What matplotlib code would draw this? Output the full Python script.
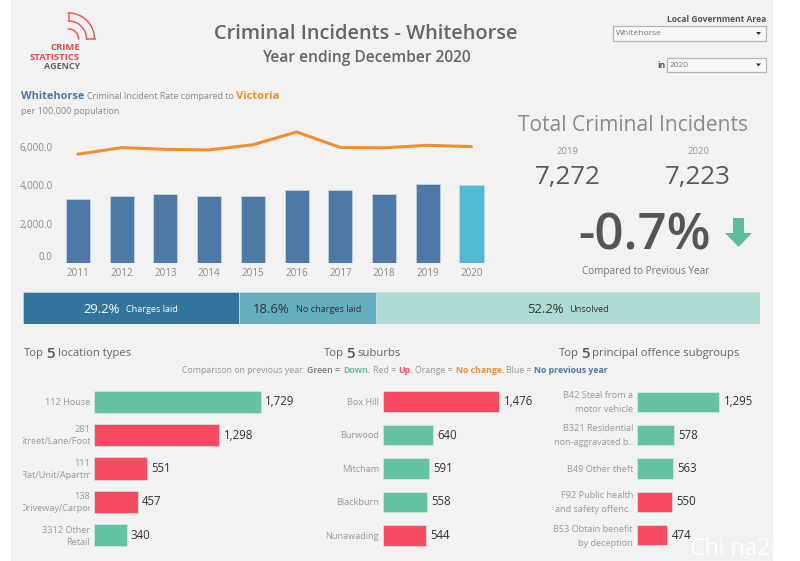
import numpy as np
from matplotlib import pyplot as plt
from matplotlib.patches import Rectangle, Polygon
from matplotlib.transforms import Bbox

plt.rcParams['font.family'] = ['Open Sans', 'DejaVu Sans']

years = [2011, 2012, 2013, 2014, 2015, 2016, 2017, 2018, 2019, 2020]
rate_lga = [3300, 3450, 3530, 3450, 3450, 3730, 3730, 3530, 4060, 4000]
rate_vic = [5610, 5950, 5860, 5830, 6100, 6760, 5960, 5940, 6070, 6000]
rate_ticks = [0, 2000, 4000, 6000]

status_names = ['Charges laid', 'No charges laid', 'Unsolved']
status_pct = [29.2, 18.6, 52.2]

loc_line1 = ['', '281', '111', '138', '3312 Other']
loc_line2 = ['112 House', 'Street/Lane/Footpath', 'Flat/Unit/Apartment', 'Driveway/Carport', 'Retail']
loc_vals = [1729, 1298, 551, 457, 340]
loc_up = [False, True, True, True, False]

sub_names = ['Box Hill', 'Burwood', 'Mitcham', 'Blackburn', 'Nunawading']
sub_vals = [1476, 640, 591, 558, 544]
sub_up = [True, False, False, False, True]

off_names = ['B42 Steal from a\nmotor vehicle', 'B321 Residential\nnon-aggravated b..',
             'B49 Other theft', 'F92 Public health\nand safety offenc..',
             'B53 Obtain benefit\nby deception']
off_vals = [1295, 578, 563, 550, 474]
off_up = [False, False, False, True, True]

W, H = 800, 561
GREY = '#f2f2f2'
TXT = '#555555'
LBL = '#9a9a9a'
GREEN = '#66c2a5'
RED = '#f94a64'
BLUE = '#4e79a7'
ORANGE = '#f28e2b'

fig = plt.figure(figsize=(W/100, H/100), dpi=100, facecolor='white')


def px_axes(x0, y0, x1, y1, **kw):
    # axes from pixel box, y counted from top
    return fig.add_axes([x0/W, 1 - y1/H, (x1 - x0)/W, (y1 - y0)/H], **kw)


bg = px_axes(0, 0, W, H)
bg.set_xlim(0, W)
bg.set_ylim(H, 0)
bg.axis('off')
bg.add_patch(Rectangle((11, 0), 762, H, color=GREY, lw=0))

# text layer on top of every chart
fg = px_axes(0, 0, W, H, zorder=10)
fg.set_xlim(0, W)
fg.set_ylim(H, 0)
fg.axis('off')


def txt(x, y, s, size=8, color=TXT, ha='left', weight='normal', **kw):
    return fg.text(x, y + size*0.08, s, fontsize=size*0.72, color=color, ha=ha, va='center',
                   fontweight=weight, **kw)


def inline(x, y, parts, center=False, gap=3):
    # several coloured pieces on one line
    rend = fig.canvas.get_renderer()
    items = [txt(0, y, s, size=sz, color=c, weight=w) for s, sz, c, w in parts]
    widths = [t.get_window_extent(rend).width for t in items]
    if center:
        x = x - (sum(widths) + gap*(len(items) - 1))/2
    for t, wd in zip(items, widths):
        t.set_x(x)
        x += wd + gap


# logo
a = np.linspace(0, np.pi/2, 40)
for r in [26, 18, 10]:
    bg.plot(68.5 + r*np.cos(a), 39 - r*np.sin(a), color='#ee5a5a', lw=1.1)
bg.plot([68.5, 68.5], [13, 21], color='#ee5a5a', lw=1.1)
bg.plot([86.5, 94.5], [39, 39], color='#ee5a5a', lw=1.1)
txt(80, 47, 'CRIME', 9.5, '#e8474c', 'right', 'bold')
txt(80, 56.5, 'STATISTICS', 9.5, '#e8474c', 'right', 'bold')
txt(80, 66, 'AGENCY', 9, '#666666', 'right', 'bold')

# titles
txt(366, 32, 'Criminal Incidents - Whitehorse', 20, '#666666', 'center', 'semibold')
txt(366, 57, 'Year ending December 2020', 15.5, '#666666', 'center', 'semibold')

# filters
txt(766, 19, 'Local Government Area', 8.5, '#555555', 'right', 'bold')
for x0, x1, y0, y1, s in [(613, 766, 26, 40.5, 'Whitehorse'), (667, 766, 57.5, 72, '2020')]:
    bg.add_patch(Rectangle((x0, y0), x1 - x0, y1 - y0, fc='#f8f8f8', ec='#b5b5b5', lw=0.9))
    txt(x0 + 3, (y0 + y1)/2, s, 8.5, '#777777')
    bg.add_patch(Polygon([(x1 - 10, y0 + 6), (x1 - 5, y0 + 6), (x1 - 7.5, y0 + 9)], color='#333333', lw=0))
txt(666, 65, 'in', 8.5, '#555555', 'right', 'bold')

# rate chart heading
inline(21, 96, [('Whitehorse', 11, BLUE, 'bold'),
                ('Criminal Incident Rate compared to', 8.9, '#888888', 'normal'),
                ('Victoria', 11.2, ORANGE, 'bold')], gap=2.5)
txt(21, 111, 'per 100,000 population', 9, '#888888')

# rate chart
ax = px_axes(56, 120, 494, 262.5)
ax.patch.set_alpha(0)
colors = [BLUE]*9 + ['#52b9d3']
ax.bar(years, rate_lga, width=0.55, color=colors, edgecolor='#c3d3e4', linewidth=0.6)
ax.plot(years, rate_vic, color=ORANGE, lw=2.2, solid_capstyle='round')
ax.set_xlim(2010.497, 2020.515)
ax.set_ylim(0, 7380)
for s in ax.spines.values():
    s.set_visible(False)
ax.set_yticks(rate_ticks)
ax.set_yticklabels([f'{v:,.1f}' for v in rate_ticks], fontsize=7, color='#8c8c8c')
ax.get_yticklabels()[0].set_y(0)
ax.get_yticklabels()[0].set_va('bottom')
ax.set_xticks(years)
ax.set_xticklabels(years, fontsize=7.1, color='#8c8c8c')
ax.tick_params(length=0, pad=4)
ax.tick_params(axis='y', pad=2.5)

# totals
txt(633, 123.5, 'Total Criminal Incidents', 21, '#8a8a8a', 'center')
txt(567, 151, '2019', 9.5, '#999999', 'center')
txt(698, 151, '2020', 9.5, '#999999', 'center')
txt(568, 175, '7,272', 26, '#5a5a5a', 'center', 'medium')
txt(698, 175, '7,223', 26, '#5a5a5a', 'center', 'medium')
txt(645, 232, '-0.7%', 51, '#555555', 'center', 'semibold')
bg.add_patch(Polygon([(733, 218), (744, 218), (744, 233), (752, 233), (738.5, 247), (725, 233), (733, 233)],
                     color='#5dbb9f', lw=0))
txt(646, 271, 'Compared to Previous Year', 10, '#777777', 'center')

# clearance bar
ax = px_axes(23.3, 291.7, 760.3, 324)
ax.axis('off')
ax.set_xlim(0, 100)
ax.set_ylim(-0.5, 0.5)
status_col = ['#32749b', '#63afc0', '#aedbd3']
status_txt = ['white', '#333333', '#333333']
left = 0
for name, pct, c, tc in zip(status_names, status_pct, status_col, status_txt):
    ax.barh(0, pct, left=left, height=1, color=c, edgecolor='#c9dfe3', linewidth=0.5)
    mid = ax.transData.transform((left + pct/2, 0))[0]
    inline(mid, 308.5, [(f'{pct}%', 13, tc, 'normal'), (name, 9.2, tc, 'normal')], center=True, gap=6)
    left += pct

# top 5 headings
inline(24, 353, [('Top', 11.3, '#666666', 'normal'), ('5', 15, '#555555', 'semibold'),
                 ('location types', 11.3, '#666666', 'normal')], gap=2.5)
inline(324, 353, [('Top', 11.3, '#666666', 'normal'), ('5', 15, '#555555', 'semibold'),
                  ('suburbs', 11.3, '#666666', 'normal')], gap=2.5)
inline(559, 353, [('Top', 11.3, '#666666', 'normal'), ('5', 15, '#555555', 'semibold'),
                  ('principal offence subgroups', 11.3, '#666666', 'normal')], gap=2.5)
inline(395, 370, [('Comparison on previous year:', 8.8, '#999999', 'normal'),
                  ('Green =', 8.8, '#777777', 'semibold'),
                  ('Down.', 8.8, GREEN, 'bold'),
                  ('Red =', 8.8, '#999999', 'normal'),
                  ('Up.', 8.8, RED, 'bold'),
                  ('Orange =', 8.8, '#999999', 'normal'),
                  ('No change.', 8.8, ORANGE, 'bold'),
                  ('Blue =', 8.8, '#999999', 'normal'),
                  ('No previous year', 8.8, BLUE, 'bold')], center=True, gap=2.5)


def top5(x0, x1, xmax, vals, up, bar_h):
    # centres of the five rows sit 33.5 px apart from 401.7 down
    ax = px_axes(x0, 385, x1, 552)
    ax.patch.set_alpha(0)
    ax.set_xlim(0, xmax)
    ax.set_ylim(4.5, -0.5)
    ax.axis('off')
    cols = [RED if u else GREEN for u in up]
    ax.barh(range(5), vals, height=bar_h, color=cols, edgecolor='#d5e8e2', linewidth=0.5)
    for i, v in enumerate(vals):
        ax.annotate(f'{v:,}', (v, i), xytext=(3, 0), textcoords='offset points',
                    ha='left', va='center', fontsize=8.3, color='#333333')
    return ax


top5(93.7, 93.7 + 200, 200/0.0968, loc_vals, loc_up, 0.66)
top5(382.7, 382.7 + 160, 160/0.079, sub_vals, sub_up, 0.62)
top5(637, 637 + 120, 120/0.0636, off_vals, off_up, 0.6)

# row labels
rows = [401.7, 435, 468.7, 502, 535.5]
for yc, a_, b in zip(rows, loc_line1, loc_line2):
    if a_ == '':
        txt(90, yc, b, 9.2, LBL, 'right')
    elif b == 'Retail':
        txt(90, yc - 6, a_, 9.2, LBL, 'right')
        txt(90, yc + 6, b, 9.2, LBL, 'right')
    else:
        txt(90, yc - 6, a_, 9.2, LBL, 'right')
        t = txt(20, yc + 6, b, 9.2, LBL, 'left')
        t.set_clip_on(True)
        t.set_clip_box(Bbox([[23, 0], [90, H]]))
for yc, s in zip(rows, sub_names):
    txt(379, yc, s, 9.2, LBL, 'right')
for yc, s in zip(rows, off_names):
    txt(633, yc, s, 9.2, LBL, 'right', linespacing=1.7, multialignment='right')

# watermark in the corner of the source picture
txt(690, 547, 'Chi na2', 23, 'white')

fig.savefig('out.png', dpi=100, facecolor='white')
